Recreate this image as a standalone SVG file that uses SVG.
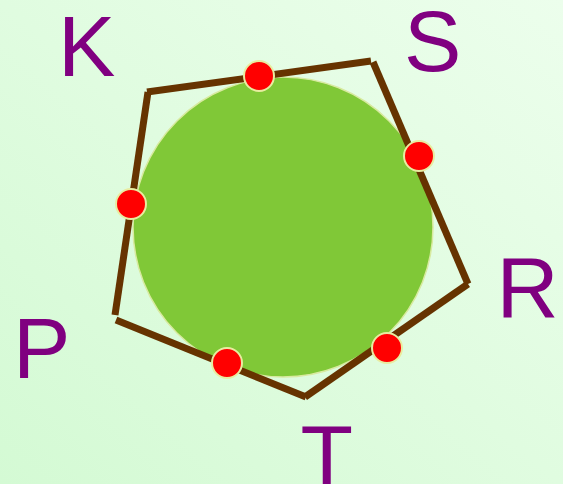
<svg xmlns="http://www.w3.org/2000/svg" width="563" height="484" viewBox="0 0 563 484">
<defs>
<linearGradient id="bg" x1="0" y1="1" x2="1" y2="0">
<stop offset="0" stop-color="#d4fad4"/>
<stop offset="1" stop-color="#ecfeec"/>
</linearGradient>
</defs>
<style>
.lbl{font-family:"Liberation Sans",Arial,sans-serif;font-size:86px;fill:#800080}
.edge{stroke:#663300;stroke-width:7;fill:none;stroke-linecap:butt}
.dot{fill:#ff0000;stroke:#e8eca0;stroke-width:2}
</style>
<rect width="563" height="484" fill="url(#bg)"/>
<g id="circle"><circle cx="283" cy="227" r="150" fill="#80c837" stroke="#d8eaa0" stroke-width="1.5"/></g>
<g id="connectors">
<line class="edge" x1="147" y1="92" x2="371" y2="61"/>
<line class="edge" x1="373" y1="62" x2="468" y2="284"/>
<line class="edge" x1="468" y1="284" x2="305" y2="397"/>
<line class="edge" x1="306" y1="397" x2="116" y2="320"/>
<line class="edge" x1="115" y1="315" x2="148" y2="92"/>
</g>
<g id="dots">
<circle class="dot" cx="259" cy="76" r="15"/>
<circle class="dot" cx="419" cy="156" r="15"/>
<circle class="dot" cx="131" cy="204" r="15"/>
<circle class="dot" cx="227" cy="363" r="15"/>
<circle class="dot" cx="387" cy="348" r="15"/>
</g>
<g id="K"><text class="lbl" x="58" y="76">K</text></g>
<g id="S"><text class="lbl" x="404" y="70.5">S</text></g>
<g id="R"><text class="lbl" x="496.5" y="317">R</text></g>
<g id="P"><text class="lbl" x="13" y="377.5">P</text></g>
<g id="T"><text class="lbl" x="300.5" y="485">T</text></g>
</svg>
